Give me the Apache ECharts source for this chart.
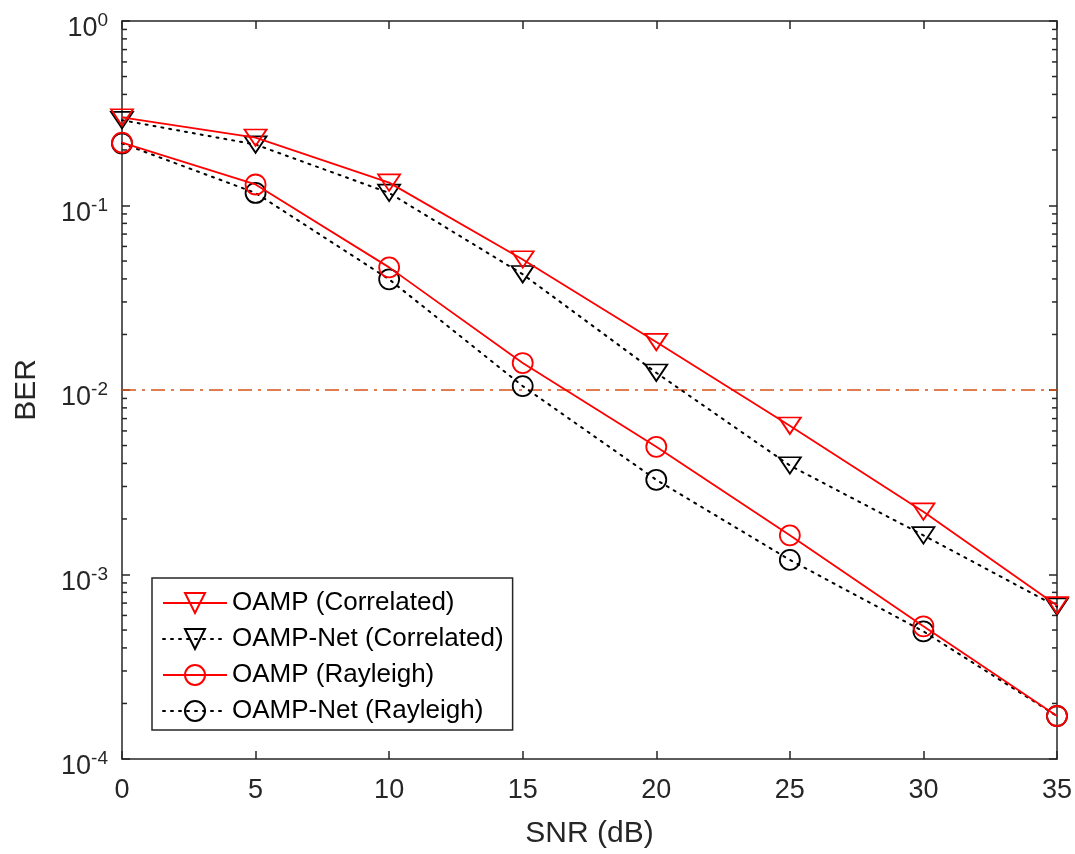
<!DOCTYPE html>
<html>
<head>
<meta charset="utf-8">
<title>BER vs SNR</title>
<script src="https://cdn.jsdelivr.net/npm/echarts@6/dist/echarts.min.js"></script>
<style>
  html, body { margin: 0; padding: 0; background: #ffffff; }
  #chart { width: 1075px; height: 854px; }
</style>
</head>
<body>
<div id="chart"></div>
<script>
// SNR points (dB)
const snr = [0, 5, 10, 15, 20, 25, 30, 35];

// Bit error rate for each detector / channel
const oampCorrelated    = [0.30, 0.233, 0.133, 0.051, 0.0182, 0.0064, 0.00219, 0.00068];
const oampNetCorrelated = [0.29, 0.214, 0.117, 0.0424, 0.0124, 0.0039, 0.00163, 0.00067];
const oampRayleigh      = [0.219, 0.130, 0.0462, 0.0140, 0.00492, 0.00163, 0.000524, 0.000171];
const oampNetRayleigh   = [0.217, 0.117, 0.0398, 0.0105, 0.00326, 0.00120, 0.000492, 0.000171];

// Target BER reference level
const targetBer = 0.01;

// Axis ticks
const xTicks = [0, 5, 10, 15, 20, 25, 30, 35];
const yDecades = [1e-4, 1e-3, 1e-2, 1e-1, 1];
const minorMantissas = [2, 3, 4, 5, 6, 7, 8, 9];

const FONT = "'Liberation Sans', Arial, Helvetica, sans-serif";
const AXIS_COLOR = '#262626';
const DOWN_TRIANGLE = 'path://M0 0L20 0L10 17.32Z';

const pairs = ys => snr.map((x, i) => [x, ys[i]]);

// minor tick positions on the log axis: 2..9 x each decade
const minorTicks = [];
for (let d = 0; d < yDecades.length - 1; d++) {
  for (const m of minorMantissas) minorTicks.push(m * yDecades[d]);
}

const xMin = xTicks[0], xMax = xTicks[xTicks.length - 1];
const yMin = yDecades[0], yMax = yDecades[yDecades.length - 1];

function curve(name, ys, color, dotted, symbol) {
  return {
    name,
    type: 'line',
    data: pairs(ys),
    symbol,
    symbolSize: symbol === 'circle' ? 20 : [22, 19],
    symbolKeepAspect: true,
    showAllSymbol: true,
    z: dotted ? 3 : 4,
    lineStyle: {
      color,
      width: dotted ? 2 : 1.8,
      type: dotted ? [2, 6] : 'solid',
      cap: dotted ? 'round' : 'butt'
    },
    itemStyle: { color: 'rgba(0,0,0,0)', borderColor: color, borderWidth: 1.8 },
    emphasis: { disabled: true },
    animation: false
  };
}

const chart = echarts.init(document.getElementById('chart'), null, { renderer: 'canvas' });

const option = {
  backgroundColor: '#ffffff',
  animation: false,
  grid: { left: 122, right: 17, top: 21, bottom: 93, containLabel: false },
  legend: {
    orient: 'vertical',
    left: 152,
    top: 578,
    padding: [10, 9, 4, 10],
    itemWidth: 64,
    itemHeight: 25,
    itemGap: 6,
    backgroundColor: '#ffffff',
    borderColor: AXIS_COLOR,
    borderWidth: 1.5,
    borderRadius: 0,
    selectedMode: false,
    textStyle: { fontFamily: FONT, fontSize: 26, color: '#000', lineHeight: 30 },
    data: ['OAMP (Correlated)', 'OAMP-Net (Correlated)', 'OAMP (Rayleigh)', 'OAMP-Net (Rayleigh)']
  },
  xAxis: [
    {
      type: 'value', min: xMin, max: xMax, interval: 5,
      name: 'SNR (dB)', nameLocation: 'middle', nameGap: 60,
      nameTextStyle: { fontFamily: FONT, fontSize: 30, color: AXIS_COLOR },
      axisLine: { show: true, onZero: false, lineStyle: { color: AXIS_COLOR, width: 1.5 } },
      axisTick: { show: true, inside: true, length: 8, lineStyle: { color: AXIS_COLOR, width: 1.5 } },
      axisLabel: { fontFamily: FONT, fontSize: 27, color: AXIS_COLOR, margin: 18 },
      splitLine: { show: false }
    },
    {
      type: 'value', min: xMin, max: xMax, interval: 5, position: 'top',
      axisLine: { show: true, onZero: false, lineStyle: { color: AXIS_COLOR, width: 1.5 } },
      axisTick: { show: true, inside: true, length: 8, lineStyle: { color: AXIS_COLOR, width: 1.5 } },
      axisLabel: { show: false },
      splitLine: { show: false }
    }
  ],
  yAxis: [
    {
      type: 'log', logBase: 10, min: yMin, max: yMax, splitNumber: 4,
      name: 'BER', nameLocation: 'middle', nameGap: 80, nameRotate: 90,
      nameTextStyle: { fontFamily: FONT, fontSize: 30, color: AXIS_COLOR },
      axisLine: { show: true, onZero: false, lineStyle: { color: AXIS_COLOR, width: 1.5 } },
      axisTick: { show: true, inside: true, length: 8, lineStyle: { color: AXIS_COLOR, width: 1.5 } },
      axisLabel: {
        margin: 14,
        padding: [12, 0, 0, 0],
        formatter: v => '{b|10}{s|' + Math.round(Math.log10(v)) + '}',
        rich: {
          b: { fontFamily: FONT, fontSize: 27, color: AXIS_COLOR, lineHeight: 31, verticalAlign: 'bottom' },
          s: { fontFamily: FONT, fontSize: 19, color: AXIS_COLOR, lineHeight: 31, verticalAlign: 'top' }
        }
      },
      splitLine: { show: false }
    },
    {
      type: 'log', logBase: 10, min: yMin, max: yMax, splitNumber: 4, position: 'right',
      axisLine: { show: true, onZero: false, lineStyle: { color: AXIS_COLOR, width: 1.5 } },
      axisTick: { show: true, inside: true, length: 8, lineStyle: { color: AXIS_COLOR, width: 1.5 } },
      axisLabel: { show: false },
      splitLine: { show: false }
    }
  ],
  series: [
    // minor ticks of the log axis, on both the left and right edges
    {
      type: 'custom',
      silent: true,
      z: 1,
      data: minorTicks.map(v => [v]),
      renderItem: (params, api) => {
        const v = api.value(0);
        const l = api.coord([xMin, v]);
        const r = api.coord([xMax, v]);
        const style = { stroke: AXIS_COLOR, lineWidth: 1.5 };
        return {
          type: 'group',
          children: [
            { type: 'line', shape: { x1: l[0], y1: l[1], x2: l[0] + 5, y2: l[1] }, style },
            { type: 'line', shape: { x1: r[0], y1: r[1], x2: r[0] - 5, y2: r[1] }, style }
          ]
        };
      },
      encode: { y: 0 }
    },
    curve('OAMP (Correlated)', oampCorrelated, '#ff0000', false, DOWN_TRIANGLE),
    curve('OAMP-Net (Correlated)', oampNetCorrelated, '#000000', true, DOWN_TRIANGLE),
    curve('OAMP (Rayleigh)', oampRayleigh, '#ff0000', false, 'circle'),
    curve('OAMP-Net (Rayleigh)', oampNetRayleigh, '#000000', true, 'circle'),
    // target BER reference line
    {
      type: 'line',
      data: [[xMin, targetBer], [xMax, targetBer]],
      symbol: 'none',
      z: 2,
      lineStyle: { color: '#D95319', width: 1.6, type: [14, 6, 3, 6] },
      emphasis: { disabled: true },
      silent: true
    }
  ]
};

chart.setOption(option);
</script>
</body>
</html>
